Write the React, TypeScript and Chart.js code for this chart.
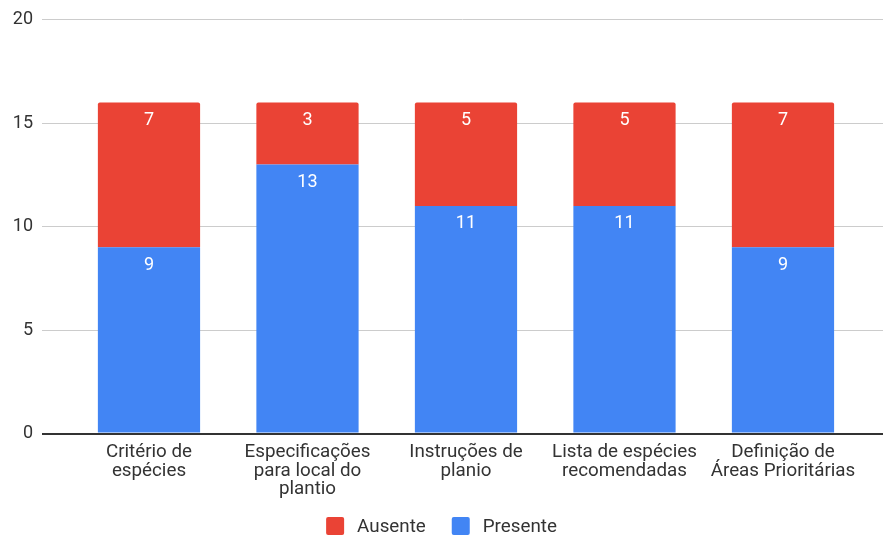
import React, { useEffect, useRef } from "react";
import { Chart, registerables } from "chart.js";

Chart.register(...registerables);

// Categories (x axis), multi-line labels
const categories: string[][] = [
  ["Critério de", "espécies"],
  ["Especificações", "para local do", "plantio"],
  ["Instruções de", "planio"],
  ["Lista de espécies", "recomendadas"],
  ["Definição de", "Áreas Prioritárias"],
];

// Series values
const presente: number[] = [9, 13, 11, 11, 9];
const ausente: number[] = [7, 3, 5, 5, 7];

// Y axis ticks
const yTicks: number[] = [0, 5, 10, 15, 20];

const BLUE = "#4285F4";
const RED = "#EA4335";
const FONT = "Roboto, 'Noto Sans', Arial, sans-serif";

// White value labels near the top of each stacked segment
const segmentLabels = {
  id: "segmentLabels",
  afterDatasetsDraw(chart: any) {
    const ctx = chart.ctx;
    ctx.save();
    ctx.fillStyle = "#ffffff";
    ctx.font = `18px ${FONT}`;
    ctx.textAlign = "center";
    ctx.textBaseline = "alphabetic";
    chart.data.datasets.forEach((ds: any, di: number) => {
      const meta = chart.getDatasetMeta(di);
      meta.data.forEach((bar: any, i: number) => {
        const v = ds.data[i].y;
        ctx.fillText(String(v), bar.x, bar.y + 22.5);
      });
    });
    ctx.restore();
  },
};

// Legend drawn at the bottom, listing the top series first
const bottomLegend = {
  id: "bottomLegend",
  afterDraw(chart: any) {
    const ctx = chart.ctx;
    const items = [...chart.data.datasets].reverse();
    const box = 18;
    const gap = 13;
    const spacing = 26;
    ctx.save();
    ctx.font = `18.8px ${FONT}`;
    const widths = items.map((d: any) => ctx.measureText(d.label).width);
    const total =
      widths.reduce((a: number, b: number) => a + b, 0) +
      items.length * (box + gap) +
      (items.length - 1) * spacing;
    let x = chart.width / 2 - total / 2;
    const cy = 526;
    items.forEach((d: any, i: number) => {
      ctx.fillStyle = d.backgroundColor;
      ctx.beginPath();
      ctx.roundRect(x, cy - box / 2, box, box, 2);
      ctx.fill();
      x += box + gap;
      ctx.fillStyle = "#333333";
      ctx.textAlign = "left";
      ctx.textBaseline = "middle";
      ctx.fillText(d.label, x, cy + 1);
      x += widths[i] + spacing;
    });
    ctx.restore();
  },
};

export default function App() {
  const canvasRef = useRef<HTMLCanvasElement | null>(null);

  useEffect(() => {
    if (!canvasRef.current) return;
    const chart = new Chart(canvasRef.current, {
      type: "bar",
      data: {
        datasets: [
          {
            label: "Presente",
            data: presente.map((v, i) => ({ x: i, y: v })),
            backgroundColor: BLUE,
            borderRadius: 2,
            borderSkipped: "start",
          },
          {
            label: "Ausente",
            data: ausente.map((v, i) => ({ x: i, y: v })),
            backgroundColor: RED,
            borderRadius: 2,
            borderSkipped: "start",
          },
        ],
      },
      options: {
        responsive: false,
        animation: false,
        devicePixelRatio: 1,
        layout: { padding: { top: 19, right: 0, bottom: 29, left: 0 } },
        datasets: {
          bar: { categoryPercentage: 1, barPercentage: 0.645 },
        },
        plugins: {
          legend: { display: false },
          tooltip: { enabled: false },
        },
        scales: {
          x: {
            type: "linear",
            stacked: true,
            offset: false,
            min: -0.675,
            max: 4.631,
            grid: { display: false, drawTicks: false, offset: false },
            border: { display: false },
            ticks: {
              stepSize: 1,
              includeBounds: false,
              autoSkip: false,
              maxRotation: 0,
              padding: 10,
              color: "#333333",
              font: { family: FONT, size: 18.8, lineHeight: 0.984 },
              callback: (value: any) =>
                Number.isInteger(value) && categories[value]
                  ? categories[value]
                  : "",
            },
          },
          y: {
            stacked: true,
            min: yTicks[0],
            max: yTicks[yTicks.length - 1],
            afterFit: (scale: any) => {
              scale.width = 42;
            },
            afterBuildTicks: (scale: any) => {
              scale.ticks = yTicks.map((v) => ({ value: v }));
            },
            grid: {
              drawTicks: false,
              color: (c: any) => (c.tick && c.tick.value === 0 ? "#333333" : "#cccccc"),
              lineWidth: (c: any) => (c.tick && c.tick.value === 0 ? 2 : 1),
            },
            border: { display: false },
            ticks: {
              padding: 9,
              color: "#333333",
              font: { family: FONT, size: 18 },
            },
          },
        },
      },
      plugins: [segmentLabels, bottomLegend],
    });
    return () => chart.destroy();
  }, []);

  return (
    <div style={{ position: "absolute", left: 0, top: 0, width: 883, height: 538 }}>
      <canvas ref={canvasRef} width={883} height={538} />
    </div>
  );
}
